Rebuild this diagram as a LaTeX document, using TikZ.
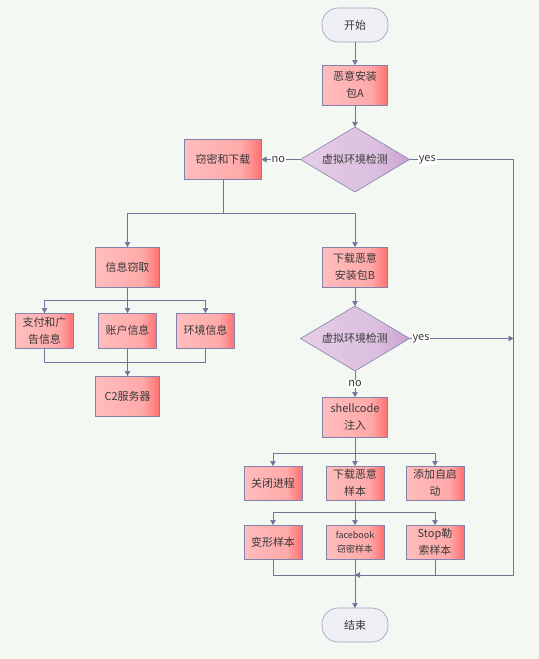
\documentclass[tikz,border=0pt]{standalone}
\usepackage{fontspec}
\setmainfont{Noto Sans CJK SC}
\usepackage{xcolor}
\usetikzlibrary{shapes,arrows.meta,positioning,calc}

\definecolor{bgc}{HTML}{F4F8F3}
\definecolor{linec}{HTML}{72729A}
\definecolor{edgec}{HTML}{8282AA}
\definecolor{textc}{HTML}{383838}
\definecolor{boxa}{HTML}{FFBDBD}
\definecolor{boxb}{HTML}{FFA9A9}
\definecolor{boxc}{HTML}{FF7070}
\definecolor{diaa}{HTML}{E6CDE6}
\definecolor{diab}{HTML}{DBBFDF}
\definecolor{diac}{HTML}{C9A0D2}
\definecolor{terma}{HTML}{EFEFF6}
\definecolor{termc}{HTML}{9C9CC0}

\pgfdeclarehorizontalshading{boxshade}{100bp}{color(0bp)=(boxa); color(25bp)=(boxa); color(62bp)=(boxb); color(75bp)=(boxc); color(100bp)=(boxc)}
\pgfdeclarehorizontalshading{diashade}{100bp}{color(0bp)=(diaa); color(25bp)=(diaa); color(60bp)=(diab); color(75bp)=(diac); color(100bp)=(diac)}

\begin{document}
\begin{tikzpicture}[
    font=\fontsize{11}{17}\selectfont,
    text=textc,
    procbox/.style={rectangle, draw=edgec, shading=boxshade, minimum width=65bp, minimum height=40bp, inner sep=1bp, outer sep=0pt, align=center, semithick},
    smallbox/.style={procbox, minimum width=58bp, minimum height=34bp},
    check/.style={diamond, draw=edgec, shading=diashade, minimum width=109bp, minimum height=65bp, aspect=1.7, inner sep=0pt, outer sep=0pt, semithick},
    term/.style={rectangle, rounded corners=16bp, draw=termc, fill=terma, minimum width=66bp, minimum height=34bp, outer sep=0pt, semithick},
    line/.style={draw=linec, semithick},
    arrow/.style={->, >={Triangle[length=5bp, width=5.5bp]}, draw=linec, semithick},
    lab/.style={fill=white, inner sep=1bp, text=textc}
]

% Background
\path[fill=bgc, use as bounding box] (0,0) rectangle (539bp,-659bp);

% Main column
\node[term] (start) at (355bp,-25bp) {开始};
\node[procbox, below=23bp of start] (pkgA) {恶意安装\\包A};
\node[check, below=22bp of pkgA] (dec1) {虚拟环境检测};
\node[procbox, minimum width=77bp, left=39bp of dec1] (steal) {窃密和下载};

% Left branch: stealing
\node[procbox, below=55bp of dec1] (pkgB) {下载恶意\\安装包B};
\node[procbox, minimum width=64bp, left=163bp of pkgB] (info) {信息窃取};
\node[smallbox, minimum height=35bp, below=26bp of info] (acct) {账户信息};
\node[smallbox, minimum height=35bp, left=25bp of acct] (pay) {支付和广\\告信息};
\node[smallbox, minimum height=35bp, right=20bp of acct] (env) {环境信息};
\node[procbox, minimum width=64bp, below=28bp of acct] (c2) {C2服务器};

% Right branch: second check
\node[check, below=19bp of pkgB] (dec2) {虚拟环境检测};
\node[procbox, below=26bp of dec2] (shell) {shellcode\\注入};
\node[smallbox, below=29bp of shell] (dl) {下载恶意\\样本};
\node[smallbox, left=24bp of dl] (kill) {关闭进程};
\node[smallbox, right=22bp of dl] (auto) {添加自启\\动};
\node[smallbox, below=25bp of dl, font=\fontsize{9}{14}\selectfont] (fb) {facebook\\窃密样本};
\node[smallbox, left=24bp of fb] (morph) {变形样本};
\node[smallbox, right=22bp of fb] (stop) {Stop勒\\索样本};
\node[term, below=49bp of fb] (end) {结束};

% Split and join points
\coordinate (split1) at ($(steal.south)+(0,-34bp)$);
\coordinate (split2) at ($(info.south)+(0,-13bp)$);
\coordinate (join1) at ($(c2.north)+(0,14bp)$);
\coordinate (split3) at ($(shell.south)+(0,-16bp)$);
\coordinate (split4) at ($(dl.south)+(0,-12bp)$);
\coordinate (join2) at ($(fb.south)+(0,-16bp)$);
\coordinate (rail) at ($(dec1.east)+(104bp,0)$);

% Main flow
\draw[arrow] (start) -- (pkgA);
\draw[arrow] (pkgA) -- (dec1);
\draw[arrow] (dec1) -- node[lab, pos=0.57] {no} (steal);
\draw[arrow] (dec1) -- node[lab, pos=0.17] {yes} (rail) -- (rail |- join2) -- (join2);

% Stealing and download
\draw[line] (steal) -- (split1);
\draw[arrow] (split1) -| (info);
\draw[arrow] (split1) -| (pkgB);

\draw[line] (info) -- (split2);
\draw[arrow] (split2) -| (pay);
\draw[arrow] (split2) -- (acct);
\draw[arrow] (split2) -| (env);

\draw[line] (pay) |- (join1);
\draw[line] (env) |- (join1);
\draw[arrow] (acct) -- (c2);

% Second check
\draw[arrow] (pkgB) -- (dec2);
\draw[arrow] (dec2) -- node[lab, pos=0.11] {yes} (dec2 -| rail);
\draw[arrow] (dec2) -- node[lab] {no} (shell);

\draw[line] (shell) -- (split3);
\draw[arrow] (split3) -| (kill);
\draw[arrow] (split3) -- (dl);
\draw[arrow] (split3) -| (auto);

\draw[line] (dl) -- (split4);
\draw[arrow] (split4) -| (morph);
\draw[arrow] (split4) -- (fb);
\draw[arrow] (split4) -| (stop);

\draw[line] (morph) |- (join2);
\draw[line] (stop) |- (join2);
\draw[arrow] (fb) -- (end);

\end{tikzpicture}
\end{document}
